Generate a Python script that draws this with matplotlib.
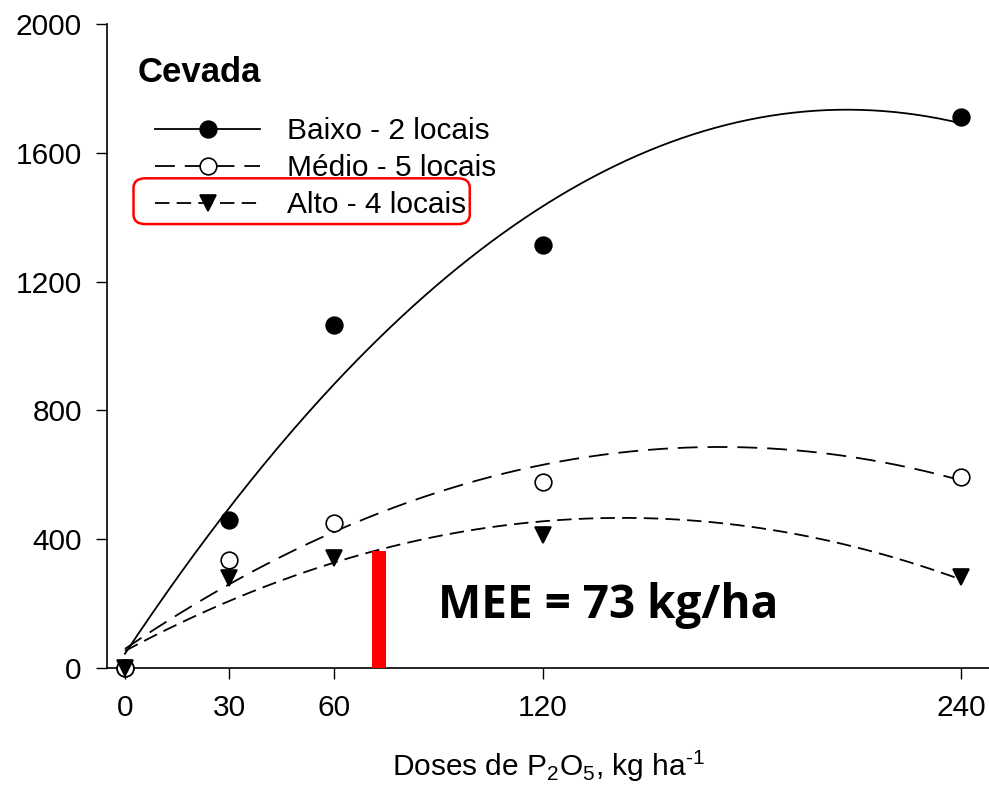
import numpy as np
import matplotlib
matplotlib.use("Agg")
from matplotlib import pyplot as plt
from matplotlib.patches import FancyBboxPatch

plt.rcParams['font.family'] = ['Liberation Sans', 'DejaVu Sans']
plt.rcParams['mathtext.fontset'] = 'custom'
plt.rcParams['mathtext.rm'] = 'Liberation Sans'
plt.rcParams['mathtext.it'] = 'Liberation Sans'

# doses de P2O5 (kg/ha)
doses = [0, 30, 60, 120, 240]
baixo = [0, 460, 1065, 1313, 1711]
medio = [0, 335, 450, 578, 593]
alto = [0, 280, 342, 413, 283]
mee = 73
mee_altura = 363

fig = plt.figure(figsize=(9.89, 7.89), dpi=100)
ax = fig.add_axes([0.108, 0.1534, 0.892, 0.8162])

xx = np.linspace(0, 240, 300)
series = [
    (baixo, 'o', 'black', '-', 'Baixo - 2 locais'),
    (medio, 'o', 'white', (0, (11, 5.5)), 'Médio - 5 locais'),
    (alto, 'v', 'black', (0, (8, 4)), 'Alto - 4 locais'),
]
handles = []
for ys, mk, fc, ls, lab in series:
    c = np.polyfit(doses, ys, 2)
    ax.plot(xx, np.polyval(c, xx), color='black', lw=1.3, ls=ls)
    ax.plot(doses, ys, ls='none', marker=mk, ms=12, mfc=fc, mec='black',
            mew=1.2, clip_on=False, zorder=5)
    h, = ax.plot([], [], color='black', lw=1.3, ls=ls, marker=mk, ms=12,
                 mfc=fc, mec='black', mew=1.2, label=lab)
    handles.append(h)

ax.bar([mee], [mee_altura], width=4, color='#ff0000', zorder=4)
ax.text(0.375, 0.077, 'MEE = 73 kg/ha', transform=ax.transAxes,
        fontsize=33, fontweight='bold', family=['Open Sans', 'DejaVu Sans'])

ax.text(0.0345, 0.91, 'Cevada', transform=ax.transAxes, fontsize=25,
        fontweight='bold')

leg = ax.legend(handles=handles, loc='upper left', bbox_to_anchor=(0.055, 0.855),
                frameon=False, fontsize=21.5, handlelength=3.5, handletextpad=0.9,
                labelspacing=0.3, borderaxespad=0, borderpad=0)

box = FancyBboxPatch((0.135, 0.716), 0.34, 0.058, boxstyle='round,pad=0,rounding_size=0.012',
                     transform=fig.transFigure, fill=False, ec='#ff0000', lw=1.8)
fig.patches.append(box)

ax.set_xlim(-5.2, 248)
ax.set_ylim(0, 2000)
ax.set_xticks(doses)
ax.set_yticks([0, 400, 800, 1200, 1600, 2000])
ax.tick_params(direction='out', length=8, width=1, labelsize=21.5)
ax.tick_params(axis='x', pad=11)
ax.tick_params(axis='y', pad=10)
ax.spines['top'].set_visible(False)
ax.spines['right'].set_visible(False)
ax.spines['left'].set_linewidth(1.2)
ax.spines['bottom'].set_linewidth(1.2)
ax.set_xlabel(r'Doses de P$_2$O$_5$, kg ha$^{\text{-1}}$', fontsize=21.5, labelpad=19)

fig.savefig('out.png', dpi=100)
